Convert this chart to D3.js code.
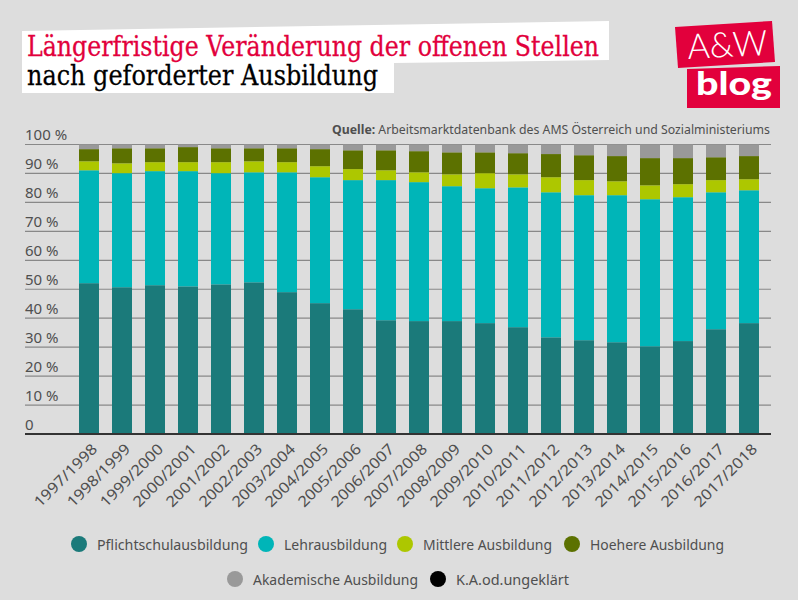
<!DOCTYPE html>
<html>
<head>
<meta charset="utf-8">
<script src="https://cdn.jsdelivr.net/npm/d3@7"></script>
<style>
    html, body { margin: 0; padding: 0; background: #dddddd; }
    svg { display: block; }
    text { font-family: "Noto Sans", sans-serif; fill: #4f4f4f; }
</style>
</head>
<body>
<div id="chart"></div>
<script>
var years = ["1997/1998", "1998/1999", "1999/2000", "2000/2001", "2001/2002", "2002/2003",
    "2003/2004", "2004/2005", "2005/2006", "2006/2007", "2007/2008", "2008/2009", "2009/2010",
    "2010/2011", "2011/2012", "2012/2013", "2013/2014", "2014/2015", "2015/2016", "2016/2017",
    "2017/2018"];

var pflicht = [52.1, 50.7, 51.4, 51.0, 51.7, 52.4, 49.0, 45.2, 43.1, 39.3, 39.0, 39.0, 38.3,
    36.9, 33.4, 32.4, 31.7, 30.3, 32.1, 36.2, 38.3];
var lehre = [39.0, 39.4, 39.4, 39.8, 38.4, 38.0, 41.4, 43.5, 44.6, 48.4, 48.0, 46.6, 46.6,
    48.3, 50.1, 50.1, 50.8, 50.8, 49.7, 47.3, 45.9];
var mittlere = [3.1, 3.4, 3.1, 3.1, 3.8, 3.8, 3.5, 3.8, 3.8, 3.4, 3.4, 4.1, 5.2,
    4.5, 5.2, 5.2, 4.8, 4.8, 4.5, 4.2, 3.8];
var hoehere = [4.2, 5.2, 4.8, 5.2, 4.8, 4.5, 4.8, 5.9, 6.5, 6.9, 7.3, 7.6, 7.2,
    7.3, 8.0, 8.6, 8.7, 9.4, 9.0, 7.9, 8.0];
var akademisch = [1.6, 1.3, 1.3, 0.9, 1.3, 1.3, 1.3, 1.6, 2.0, 2.0, 2.3, 2.7, 2.7,
    3.0, 3.3, 3.7, 4.0, 4.7, 4.7, 4.4, 4.0];

var seriesNames = ["Pflichtschulausbildung", "Lehrausbildung", "Mittlere Ausbildung",
    "Hoehere Ausbildung", "Akademische Ausbildung", "K.A.od.ungeklärt"];
var seriesValues = [pflicht, lehre, mittlere, hoehere, akademisch];
var seriesColors = ["#1b7a7a", "#00b5b8", "#adc700", "#5c7100", "#999999", "#000000"];
var yTicks = [0, 10, 20, 30, 40, 50, 60, 70, 80, 90, 100];

var width = 798, height = 600;
var svg = d3.select("#chart").append("svg")
    .attr("width", width)
    .attr("height", height);

// title block, the white shape is slightly crooked on purpose
svg.append("polygon")
    .attr("points", "22,31 609,21 609,60 394,63 394,93 22,93")
    .attr("fill", "#ffffff");

svg.append("text")
    .attr("x", 27).attr("y", 56)
    .attr("textLength", 572).attr("lengthAdjust", "spacingAndGlyphs")
    .style("font-family", "'DejaVu Serif', serif")
    .style("font-size", "27px")
    .style("fill", "#e2003c")
    .style("stroke", "#e2003c")
    .style("stroke-width", 0.3)
    .text("Längerfristige Veränderung der offenen Stellen");

svg.append("text")
    .attr("x", 27).attr("y", 85)
    .attr("textLength", 351).attr("lengthAdjust", "spacingAndGlyphs")
    .style("font-family", "'DejaVu Serif', serif")
    .style("font-size", "27px")
    .style("fill", "#000000")
    .style("stroke", "#000000")
    .style("stroke-width", 0.3)
    .text("nach geforderter Ausbildung");

// logo
var logo = svg.append("g");
logo.append("polygon").attr("points", "675,27 772,21 775,62 678,68").attr("fill", "#e2003c");
logo.append("polygon").attr("points", "687,69 780,66 780,108 687,108").attr("fill", "#e2003c");
logo.append("text")
    .attr("transform", "translate(688,59) rotate(-3)")
    .attr("textLength", 80).attr("lengthAdjust", "spacingAndGlyphs")
    .style("font-family", "Lato, sans-serif")
    .style("font-weight", "300")
    .style("font-size", "35px")
    .style("fill", "#ffffff")
    .text("A&W");
logo.append("text")
    .attr("x", 696).attr("y", 95)
    .attr("textLength", 76).attr("lengthAdjust", "spacingAndGlyphs")
    .style("font-family", "Lato, sans-serif")
    .style("font-weight", "900")
    .style("font-size", "32px")
    .style("fill", "#ffffff")
    .text("blog");

// source line
var source = svg.append("text")
    .attr("x", 332).attr("y", 134)
    .attr("textLength", 438).attr("lengthAdjust", "spacingAndGlyphs")
    .style("font-size", "12px");
source.append("tspan").style("font-weight", "bold").text("Quelle:");
source.append("tspan").text(" Arbeitsmarktdatenbank des AMS Österreich und Sozialministeriums");

// scales
var xScale = d3.scaleBand()
    .domain(years)
    .range([72.5, 765.5])
    .paddingInner(13 / 33)
    .paddingOuter(6.5 / 33);

var yScale = d3.scaleLinear()
    .domain([0, 100])
    .range([434, 144.5]);

// gridlines and y labels
var yAxis = svg.append("g")
    .attr("transform", "translate(25,0)")
    .call(d3.axisRight(yScale)
        .offset(0)
        .tickValues(yTicks)
        .tickSize(746)
        .tickFormat(function (d) { return d === 0 ? "0" : d + " %"; }));

yAxis.select(".domain").remove();
yAxis.selectAll(".tick line")
    .attr("stroke", "#888888")
    .attr("stroke-width", 1.2);
yAxis.selectAll(".tick text")
    .attr("x", 0)
    .attr("dy", -4.5)
    .attr("text-anchor", "start")
    .style("font-size", "15px")
    .style("fill", "#4f4f4f");

// stacked bars
var table = years.map(function (year, i) {
    var row = { year: year };
    seriesValues.forEach(function (values, s) {
        row[seriesNames[s]] = values[i];
    });
    return row;
});

var stacked = d3.stack().keys(seriesNames.slice(0, 5))(table);

svg.append("g")
    .selectAll("g")
    .data(stacked)
    .enter().append("g")
    .attr("fill", function (d, i) { return seriesColors[i]; })
    .selectAll("rect")
    .data(function (d) { return d; })
    .enter().append("rect")
    .attr("x", function (d) { return xScale(d.data.year); })
    .attr("y", function (d) { return yScale(d[1]); })
    .attr("width", xScale.bandwidth())
    .attr("height", function (d) { return yScale(d[0]) - yScale(d[1]); });

// x axis
var xAxis = svg.append("g")
    .attr("transform", "translate(0,434)")
    .call(d3.axisBottom(xScale).tickSize(0));

xAxis.select(".domain").remove();
xAxis.append("line")
    .attr("x1", 25).attr("x2", 771)
    .attr("stroke", "#333333")
    .attr("stroke-width", 2);
xAxis.selectAll(".tick text")
    .attr("text-anchor", "end")
    .attr("dx", 0)
    .attr("dy", 0)
    .attr("transform", "translate(7,14) rotate(-45)")
    .attr("textLength", 82)
    .attr("lengthAdjust", "spacingAndGlyphs")
    .style("font-size", "15px")
    .style("fill", "#4f4f4f");

// legend, laid out in two centred rows like the original
var legendX = [79, 266, 405, 572, 235, 438];
var legendY = [544, 544, 544, 544, 579, 579];
var legendTextWidth = [151, 103, 129, 134, 165, 113];

var legendItem = svg.append("g")
    .selectAll("g")
    .data(seriesNames)
    .enter().append("g")
    .attr("transform", function (d, i) {
        return "translate(" + legendX[i] + "," + legendY[i] + ")";
    });

legendItem.append("circle")
    .attr("r", 8)
    .attr("fill", function (d, i) { return seriesColors[i]; });

legendItem.append("text")
    .attr("x", 18)
    .attr("y", 6)
    .attr("textLength", function (d, i) { return legendTextWidth[i]; })
    .attr("lengthAdjust", "spacingAndGlyphs")
    .style("font-size", "15px")
    .text(function (d) { return d; });
</script>
</body>
</html>
